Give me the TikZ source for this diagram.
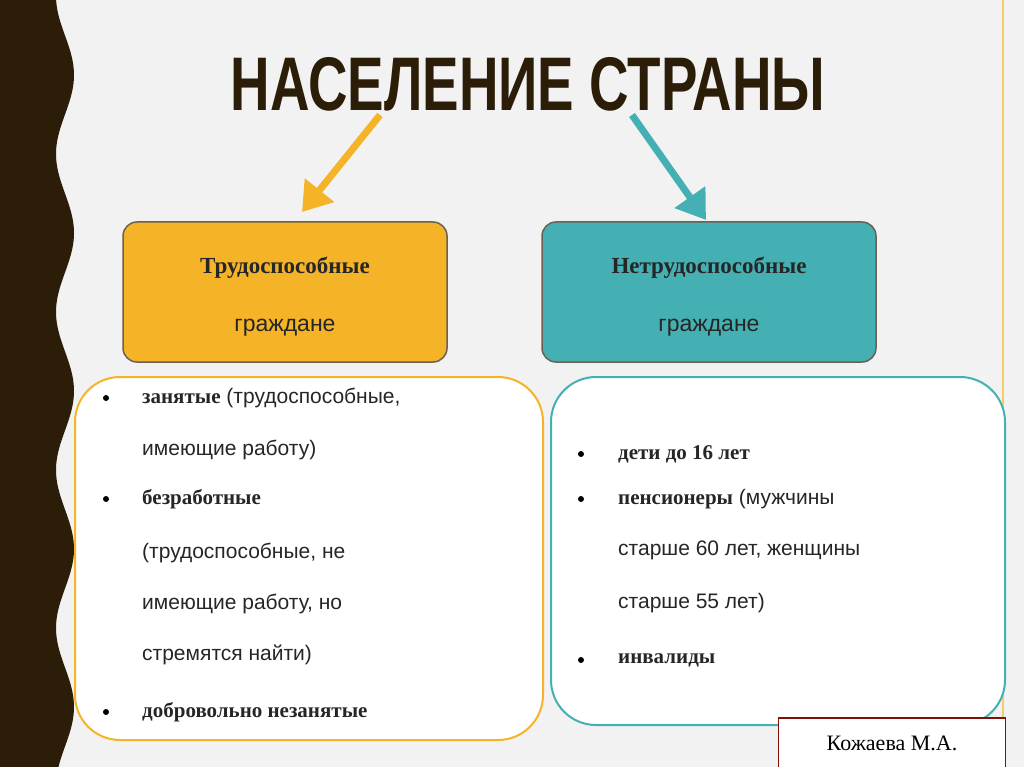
\documentclass[tikz,border=0pt]{standalone}
\usepackage{fontspec}
\setmainfont{Liberation Sans}
\newfontfamily\titlefont{Liberation Sans}
\newfontfamily\bserif{Liberation Serif}[BoldFont={* Bold}]
\newcommand{\bs}[1]{{\bserif\bfseries #1}}
\definecolor{dkbrown}{HTML}{2B1D08}
\definecolor{bgc}{HTML}{F2F2F2}
\definecolor{orng}{HTML}{F5B327}
\definecolor{teal}{HTML}{45B0B3}
\definecolor{txt}{HTML}{262626}
\tikzset{
  head/.style={rounded corners=14pt, draw=dkbrown!70, line width=1.5pt, minimum width=324pt, minimum height=140pt},
  listbox/.style={rounded corners=45pt, fill=white, line width=2pt},
  itm/.style={anchor=west, font=\fontsize{21}{24}\selectfont, text=txt, inner sep=0pt},
  bul/.style={circle, fill=black, inner sep=0pt, minimum size=6pt},
  arr/.style={line width=7pt, -{Triangle[length=28pt,width=36pt]}}
}
\usetikzlibrary{arrows.meta}
\begin{document}
\begin{tikzpicture}[x=1pt,y=-1pt]
\fill[bgc] (0,0) rectangle (1024,767);
\useasboundingbox (0,0) rectangle (1024,767);
\fill[dkbrown] (0,0) -- plot[domain=0:767, samples=120, smooth] ({65+9*cos((\x-75)/158*360)}, \x) -- (0,767) -- cycle;
\draw[orng!70, line width=1.5pt] (1003,0) -- (1003,767);
\node[font=\titlefont\bfseries\fontsize{76}{76}\selectfont, text=dkbrown, xscale=0.72] (title) at (528,84) {НАСЕЛЕНИЕ СТРАНЫ};
\node[head, fill=orng] (lh) at (285,292) {};
\node[head, fill=teal, minimum width=334pt] (rh) at (709,292) {};
\node[font=\fontsize{23}{26}\selectfont, text=txt] at (285,268) {\bs{Трудоспособные}};
\node[font=\fontsize{23}{26}\selectfont, text=txt] at (285,328) {граждане};
\node[font=\fontsize{23}{26}\selectfont, text=txt] at (709,268) {\bs{Нетрудоспособные}};
\node[font=\fontsize{23}{26}\selectfont, text=txt] at (709,328) {граждане};
\coordinate (a1) at (380,115); \coordinate (a2) at (302,212);
\coordinate (b1) at (632,115); \coordinate (b2) at (706,220);
\draw[arr, orng] (a1) -- (a2);
\draw[arr, teal] (b1) -- (b2);
\draw[listbox, draw=orng] (75,377) rectangle (543,740);
\draw[listbox, draw=teal] (551,377) rectangle (1005,725);
\foreach \y in {398,499,712} \node[bul] at (106,\y) {};
\node[itm] at (142,398) {\bs{занятые} (трудоспособные,};
\node[itm] at (142,450) {имеющие работу)};
\node[itm] at (142,499) {\bs{безработные}};
\node[itm] at (142,553) {(трудоспособные, не};
\node[itm] at (142,604) {имеющие работу, но};
\node[itm] at (142,655) {стремятся найти)};
\node[itm] at (142,712) {\bs{добровольно незанятые}};
\foreach \y in {454,499,660} \node[bul] at (581,\y) {};
\node[itm] at (618,454) {\bs{дети до 16 лет}};
\node[itm] at (618,499) {\bs{пенсионеры} (мужчины};
\node[itm] at (618,550) {старше 60 лет, женщины};
\node[itm] at (618,603) {старше 55 лет)};
\node[itm] at (618,660) {\bs{инвалиды}};
\node[draw=dkbrown!60!red, line width=1.5pt, fill=white, minimum width=227pt, minimum height=50pt, font=\bserif\fontsize{22}{24}\selectfont] (sig) at (892,743) {Кожаева М.А.};
\end{tikzpicture}
\end{document}
